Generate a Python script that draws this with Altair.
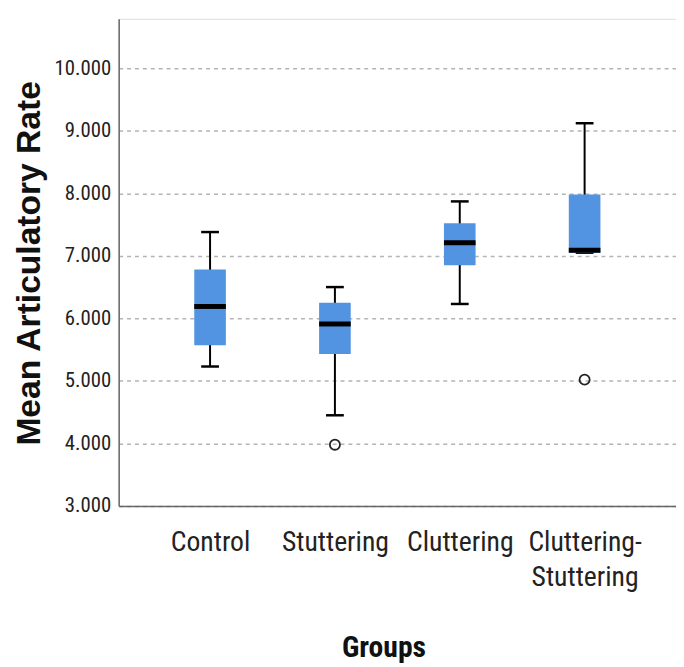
import altair as alt
import pandas as pd

groups = ["Control", "Stuttering", "Cluttering", "Cluttering-Stuttering"]
lower = [5.23, 4.45, 6.23, 7.05]
q1 = [5.57, 5.43, 6.85, 7.05]
median = [6.19, 5.91, 7.21, 7.09]
q3 = [6.78, 6.25, 7.52, 7.98]
upper = [7.38, 6.50, 7.87, 9.12]

outlier_groups = ["Stuttering", "Cluttering-Stuttering"]
outlier_values = [3.98, 5.02]

y_ticks = [3, 4, 5, 6, 7, 8, 9, 10]

df = pd.DataFrame({"group": groups, "lower": lower, "q1": q1, "median": median,
                   "q3": q3, "upper": upper})
odf = pd.DataFrame({"group": outlier_groups, "value": outlier_values})

NARROW = "Liberation Sans Narrow, Arial Narrow, Roboto Condensed, DejaVu Sans Condensed, Liberation Sans, sans-serif"
BOLD = "Liberation Sans, Arial, sans-serif"

xscale = alt.Scale(type="point", padding=0.732, domain=groups)
yscale = alt.Scale(domain=[3, 10.79], nice=False, zero=False)

xaxis = alt.Axis(
    title="Groups", labelAngle=0, ticks=False, grid=False,
    domainColor="#666666", domainWidth=1.5,
    labelFont=NARROW, labelFontSize=28, labelColor="#222222", labelPadding=23,
    labelLineHeight=36, labelBaseline="top",
    labelExpr="datum.label == 'Cluttering-Stuttering' ? ['Cluttering-', 'Stuttering'] : datum.label",
    titleFont=NARROW, titleFontSize=30, titleFontWeight="bold", titleColor="#111111",
    titlePadding=41, titleX=268, titleAnchor="middle",
)
yaxis = alt.Axis(
    title="Mean Articulatory Rate", values=y_ticks, format=".3f", ticks=False,
    domainColor="#666666", domainWidth=1.5,
    grid=True, gridColor="#b4b4b4", gridDash=[4, 4], gridWidth=1.5,
    labelFont=NARROW, labelFontSize=21, labelColor="#222222", labelPadding=8,
    titleFont=BOLD, titleFontSize=34, titleFontWeight="bold", titleColor="#111111",
    titleAngle=270, titleX=-80, titleY=247, titleBaseline="alphabetic", titleAlign="center",
)

base = alt.Chart(df)

whisker = base.mark_rule(color="black", strokeWidth=2).encode(
    x=alt.X("group:N", scale=xscale, axis=xaxis, sort=groups),
    y=alt.Y("lower:Q", scale=yscale, axis=yaxis),
    y2="upper:Q",
)
caps_low = base.mark_tick(color="black", size=18, thickness=2.5, opacity=1).encode(
    x=alt.X("group:N", scale=xscale, sort=groups), y=alt.Y("lower:Q", scale=yscale)
)
caps_high = base.mark_tick(color="black", size=18, thickness=2.5, opacity=1).encode(
    x=alt.X("group:N", scale=xscale, sort=groups), y=alt.Y("upper:Q", scale=yscale)
)
box = base.mark_bar(color="#5294e2", size=32).encode(
    x=alt.X("group:N", scale=xscale, sort=groups),
    y=alt.Y("q1:Q", scale=yscale), y2="q3:Q",
)
med = base.mark_tick(color="black", size=32, thickness=5, opacity=1).encode(
    x=alt.X("group:N", scale=xscale, sort=groups), y=alt.Y("median:Q", scale=yscale)
)
outl = alt.Chart(odf).mark_point(shape="circle", size=105, filled=False, color="#222222",
                                  strokeWidth=1.8, opacity=1).encode(
    x=alt.X("group:N", scale=xscale, sort=groups), y=alt.Y("value:Q", scale=yscale)
)

chart = alt.layer(whisker, caps_low, caps_high, box, med, outl).properties(
    width=564, height=493,
    autosize=alt.AutoSizeParams(type="none"),
    padding={"left": 112, "top": 7, "right": 0, "bottom": 156},
).configure_view(stroke=None).configure(background="white")

chart.save("out.html", embed_options={"renderer": "svg", "actions": False})
